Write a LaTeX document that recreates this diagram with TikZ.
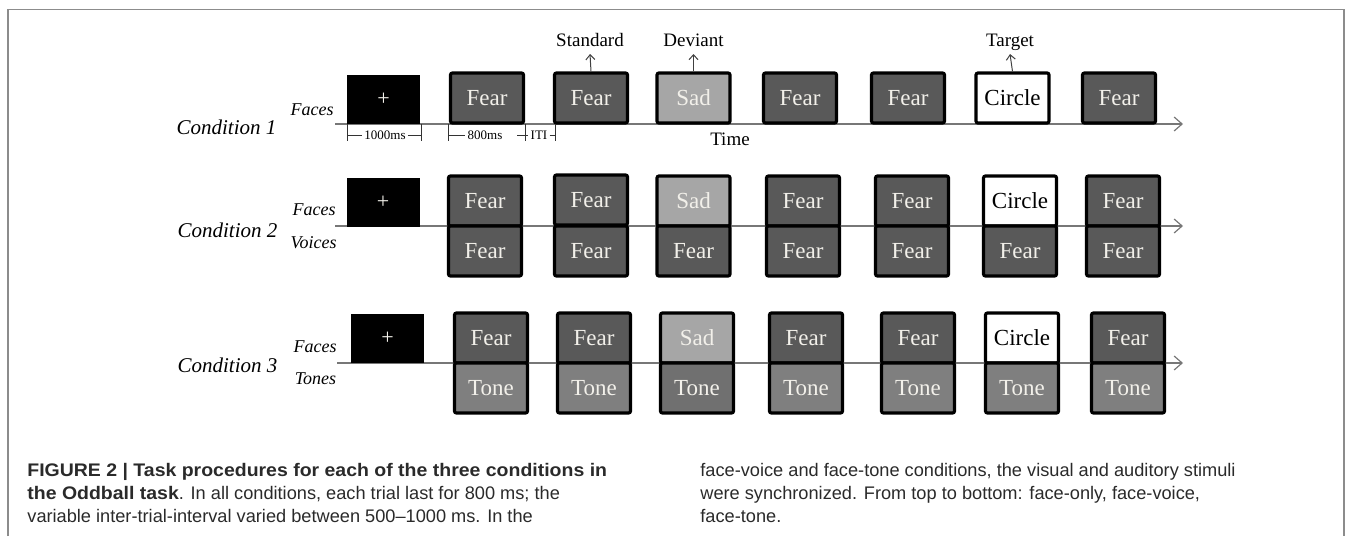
\documentclass[tikz,border=0pt]{standalone}
\usepackage{fontspec}
\setmainfont{Liberation Serif}
\newfontfamily\capfont{Liberation Sans}
\newfontfamily\capbold{Liberation Sans Bold}[FakeStretch=1.07]
\usetikzlibrary{arrows.meta}
\definecolor{darkfill}{HTML}{595959}
\definecolor{sadfill}{HTML}{A6A6A6}
\definecolor{tonefill}{HTML}{7F7F7F}
\definecolor{tonesad}{HTML}{707070}
\definecolor{lighttxt}{HTML}{F2F0EA}
\definecolor{linegray}{HTML}{777777}
\definecolor{framegray}{HTML}{8C8C8C}
\definecolor{captxt}{HTML}{2A2A2A}
\begin{document}
\begin{tikzpicture}[x=0.5pt,y=-0.5pt,
  stim/.style={draw=black, line width=1.6pt, rounded corners=1pt, minimum width=36.5pt, minimum height=25pt, inner sep=0pt, text=lighttxt, font=\fontsize{11.5}{12}\selectfont},
  fear/.style={stim, fill=darkfill},
  sad/.style={stim, fill=sadfill},
  tone/.style={stim, fill=tonefill},
  tonedk/.style={stim, fill=tonesad},
  circ/.style={stim, fill=white, text=black},
  fix/.style={fill=black, minimum width=36.5pt, minimum height=24.5pt, inner sep=0pt, text=lighttxt, font=\fontsize{11}{12}\selectfont},
  timeline/.style={draw=linegray, line width=0.6pt, -{Straight Barb[length=4pt,width=7pt]}},
  uparrow/.style={draw=black!75, line width=0.5pt, -{Straight Barb[length=2.5pt,width=4.5pt]}},
  condlbl/.style={font=\itshape\fontsize{10.5}{12}\selectfont, inner sep=0pt},
  modlbl/.style={font=\itshape\fontsize{9}{10}\selectfont, inner sep=0pt, anchor=east},
  toplbl/.style={font=\fontsize{9.5}{11}\selectfont, inner sep=1pt, text depth=0pt, anchor=south},
  timelbl/.style={font=\fontsize{6.5}{7}\selectfont, inner sep=1pt},
  tick/.style={draw=black!80, line width=0.5pt},
  capline/.style={font=\capfont\fontsize{9.1}{11}\selectfont, text=captxt, inner sep=0pt, anchor=base west}
]
\useasboundingbox (0,0) rectangle (1355,536);
\draw[framegray, line width=0.8pt] (8,536) -- (8,9.5) -- (1344,9.5) -- (1344,536);

% ---------- Condition 1 ----------
\coordinate (t1s) at (335,124);
\coordinate (t1e) at (1183,124);
\draw[timeline] (t1s) -- (t1e);
\node[condlbl] (c1) at (226.5,127) {Condition 1};
\node[modlbl] (c1faces) at (334,110) {Faces};
\node[fix] (x1) at (383.5,99.5) {+};
\node[fear] (a1) at (487,98) {Fear};
\node[fear] (a2) at (591,98) {Fear};
\node[sad]  (a3) at (693.5,98) {Sad};
\node[fear] (a4) at (800,98) {Fear};
\node[fear] (a5) at (908,98) {Fear};
\node[circ] (a6) at (1012.5,98) {Circle};
\node[fear] (a7) at (1119,98) {Fear};
\node[toplbl] (std) at (590,49) {Standard};
\node[toplbl] (dev) at (693.5,49) {Deviant};
\node[toplbl] (tgt) at (1010,49) {Target};
\draw[uparrow] (a2.north) -- ([yshift=-2.5pt]std.south);
\draw[uparrow] (a3.north) -- ([yshift=-2.5pt]dev.south);
\draw[uparrow] (a6.north) -- ([yshift=-2.5pt]tgt.south);
\node[font=\fontsize{9.5}{11}\selectfont, inner sep=0pt] (time) at (730,139) {Time};

% timing marks
\node[timelbl] (d1000) at (385,135) {1000ms};
\node[timelbl] (d800) at (485,135) {800ms};
\node[timelbl] (dITI) at (539,135) {ITI};
\coordinate (k1) at (347,135);
\coordinate (k2) at (421,135);
\coordinate (k3) at (448,135);
\coordinate (k4) at (525,135);
\coordinate (k5) at (555,135);
\foreach \k in {k1,k2,k3,k4,k5}{\draw[tick] ([yshift=5.5pt]\k) -- ([yshift=-3pt]\k);}
\draw[tick] (k1) -- (d1000.west);
\draw[tick] (d1000.east) -- (k2);
\draw[tick] (k3) -- (d800.west);
\draw[tick] ([xshift=-4pt]k4) -- (dITI.west);
\draw[tick] (dITI.east) -- (k5);

% ---------- Condition 2 ----------
\coordinate (t2s) at (335,226);
\coordinate (t2e) at (1183,226);
\draw[timeline] (t2s) -- (t2e);
\node[condlbl] (c2) at (227.5,230) {Condition 2};
\node[modlbl] (c2faces) at (336,210) {Faces};
\node[modlbl] (c2voices) at (337,243) {Voices};
\node[fix] (x2) at (383,202.5) {+};
\node[fear] (b1) at (485,201) {Fear};
\node[fear] (b2) at (591,200) {Fear};
\node[sad]  (b3) at (693.5,201) {Sad};
\node[fear] (b4) at (803,201) {Fear};
\node[fear] (b5) at (912,201) {Fear};
\node[circ] (b6) at (1020,201) {Circle};
\node[fear] (b7) at (1123,201) {Fear};
\node[fear] (v1) at (485,251) {Fear};
\node[fear] (v2) at (591,251) {Fear};
\node[fear] (v3) at (693.5,251) {Fear};
\node[fear] (v4) at (803,251) {Fear};
\node[fear] (v5) at (912,251) {Fear};
\node[fear] (v6) at (1020,251) {Fear};
\node[fear] (v7) at (1123,251) {Fear};

% ---------- Condition 3 ----------
\coordinate (t3s) at (337,363);
\coordinate (t3e) at (1183,363);
\draw[timeline] (t3s) -- (t3e);
\node[condlbl] (c3) at (227.5,365) {Condition 3};
\node[modlbl] (c3faces) at (337,347) {Faces};
\node[modlbl] (c3tones) at (336.5,379) {Tones};
\node[fix] (x3) at (387.5,338.5) {+};
\node[fear] (e1) at (491,338) {Fear};
\node[fear] (e2) at (594,338) {Fear};
\node[sad]  (e3) at (697,338) {Sad};
\node[fear] (e4) at (806,338) {Fear};
\node[fear] (e5) at (918,338) {Fear};
\node[circ] (e6) at (1022,338) {Circle};
\node[fear] (e7) at (1128,338) {Fear};
\node[tone]   (n1) at (491,388) {Tone};
\node[tone]   (n2) at (594,388) {Tone};
\node[tonedk] (n3) at (697,388) {Tone};
\node[tone]   (n4) at (806,388) {Tone};
\node[tone]   (n5) at (918,388) {Tone};
\node[tone]   (n6) at (1022,388) {Tone};
\node[tone]   (n7) at (1128,388) {Tone};

% ---------- Caption ----------
\node[capline] (cl1) at (27,476) {\capbold FIGURE 2 | Task procedures for each of the three conditions in};
\node[capline] (cl2) at (27,499) {{\capbold the Oddball task}. In all conditions, each trial last for 800 ms; the};
\node[capline] (cl3) at (27,522) {variable inter-trial-interval varied between 500–1000 ms. In the};
\node[capline] (cr1) at (700,476) {face-voice and face-tone conditions, the visual and auditory stimuli};
\node[capline] (cr2) at (700,499) {were synchronized. From top to bottom: face-only, face-voice,};
\node[capline] (cr3) at (700,522) {face-tone.};
\end{tikzpicture}
\end{document}
